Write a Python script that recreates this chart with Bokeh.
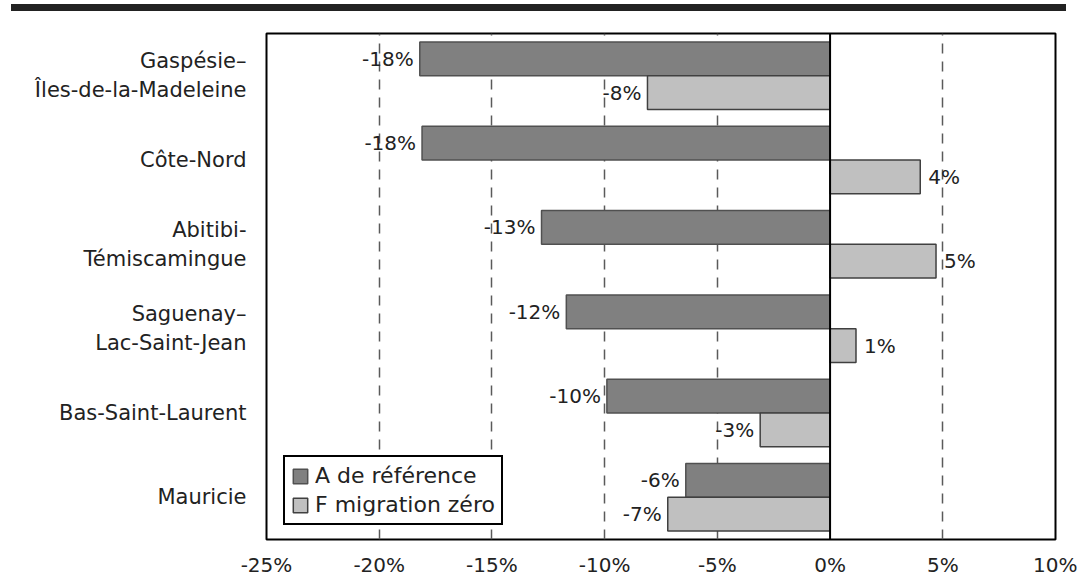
from bokeh.plotting import figure
from bokeh.models import Div, FixedTicker, Range1d, Span
from bokeh.layouts import column
from bokeh.core.properties import value
from bokeh.embed import file_html
from bokeh.resources import INLINE

regions = ["Gaspésie–\nÎles-de-la-Madeleine", "Côte-Nord", "Abitibi-\nTémiscamingue",
           "Saguenay–\nLac-Saint-Jean", "Bas-Saint-Laurent", "Mauricie"]
ref_values = [-18.2, -18.1, -12.8, -11.7, -9.9, -6.4]
mz_values = [-8.1, 4.0, 4.7, 1.15, -3.1, -7.2]
ref_labels = ["-18%", "-18%", "-13%", "-12%", "-10%", "-6%"]
mz_labels = ["-8%", "4%", "5%", "1%", "-3%", "-7%"]
x_ticks = [-25, -20, -15, -10, -5, 0, 5, 10]
x_tick_labels = ["-25%", "-20%", "-15%", "-10%", "-5%", "0%", "5%", "10%"]
series_names = ["A de référence", "F migration zéro"]

FONT = "DejaVu Sans"
n = len(regions)
centers = [n - 0.5 - i for i in range(n)]
ref_y = [c + 0.2 for c in centers]
mz_y = [c - 0.2 for c in centers]

p = figure(frame_width=789, frame_height=506, output_backend="svg", toolbar_location=None,
           x_range=Range1d(-25, 10), y_range=Range1d(0, n),
           min_border_left=266, min_border_right=22, min_border_top=22, min_border_bottom=34)
p.background_fill_color = "white"
p.border_fill_color = "white"
p.outline_line_color = "black"
p.outline_line_width = 2
p.outline_line_alpha = 1

# grid
p.ygrid.visible = False
p.xgrid.ticker = FixedTicker(ticks=[t for t in x_ticks if t not in (-25, 0, 10)])
p.xgrid.grid_line_color = "#5a5a5a"
p.xgrid.grid_line_width = 1.5
p.xgrid.grid_line_dash = "10 8"

ref_r = p.hbar(y=ref_y, left=0, right=ref_values, height=0.4, fill_color="#808080",
               line_color="#505050", line_width=1.5, legend_label=series_names[0])
mz_r = p.hbar(y=mz_y, left=0, right=mz_values, height=0.4, fill_color="#c0c0c0",
              line_color="#404040", line_width=1.5, legend_label=series_names[1])

p.add_layout(Span(location=0, dimension="height", line_color="black", line_width=2))

# value labels
all_x = ref_values + mz_values
all_y = ref_y + mz_y
all_t = ref_labels + mz_labels
neg = [(x, y, t) for x, y, t in zip(all_x, all_y, all_t) if x < 0]
pos = [(x, y, t) for x, y, t in zip(all_x, all_y, all_t) if x >= 0]
p.text(x=[a[0] for a in neg], y=[a[1] for a in neg], text=[a[2] for a in neg],
       text_align="right", text_baseline="middle", x_offset=-6,
       text_font=value(FONT), text_font_size="20px", text_color="#222222")
p.text(x=[a[0] for a in pos], y=[a[1] for a in pos], text=[a[2] for a in pos],
       text_align="left", text_baseline="middle", x_offset=8,
       text_font=value(FONT), text_font_size="20px", text_color="#222222")

# axes
p.xaxis.ticker = FixedTicker(ticks=x_ticks)
p.xaxis.major_label_overrides = {t: l for t, l in zip(x_ticks, x_tick_labels)}
p.xaxis.axis_line_color = None
p.xaxis.major_tick_line_color = None
p.xaxis.minor_tick_line_color = None
p.xaxis.major_label_standoff = 7
p.xaxis.major_label_text_font = FONT
p.xaxis.major_label_text_font_size = "20px"
p.xaxis.major_label_text_color = "#222222"

p.yaxis.ticker = FixedTicker(ticks=centers)
p.yaxis.major_label_overrides = {c: r for c, r in zip(centers, regions)}
p.yaxis.axis_line_color = None
p.yaxis.major_tick_line_color = None
p.yaxis.minor_tick_line_color = None
p.yaxis.major_label_standoff = 14
p.yaxis.major_label_text_font = FONT
p.yaxis.major_label_text_font_size = "21px"
p.yaxis.major_label_text_color = "#222222"

# legend
lg = p.legend[0]
lg.location = (17, 14)
lg.border_line_color = "black"
lg.border_line_width = 2
lg.border_line_alpha = 1
lg.background_fill_color = "white"
lg.background_fill_alpha = 1
lg.label_text_font = FONT
lg.label_text_font_size = "22px"
lg.label_text_color = "#222222"
lg.glyph_width = 18
lg.glyph_height = 18
lg.label_standoff = 6
lg.label_height = 20
lg.padding = 6
lg.spacing = 4
lg.margin = 0

top_bar = Div(text="", width=1055, height=7, margin=(4, 0, 0, 11),
              styles={"background-color": "#222222"})
layout = column(top_bar, p, spacing=0)

open("out.html", "w").write(file_html(layout, INLINE))
